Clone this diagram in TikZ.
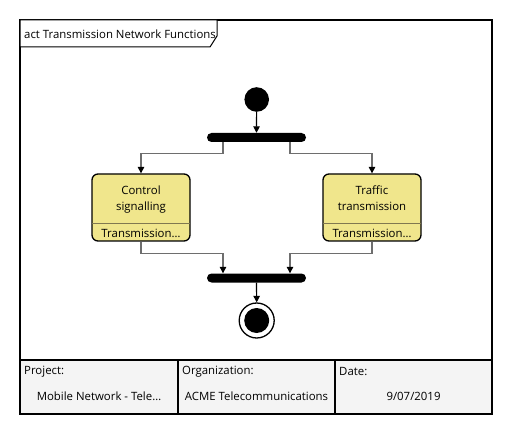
\documentclass[tikz,border=0pt]{standalone}
\usepackage{fontspec}
\setmainfont{Open Sans}
\usetikzlibrary{arrows.meta,calc}
\definecolor{actfill}{RGB}{240,230,140}
\definecolor{actline}{RGB}{128,120,80}
\definecolor{flowgray}{RGB}{110,110,110}
\definecolor{tablefill}{RGB}{244,244,244}
\begin{document}
\begin{tikzpicture}
[
   x=1pt, y=-1pt,
   font=\fontsize{11.4}{16}\selectfont,
   frame/.style={draw=black, line width=1.6pt},
   bar/.style={fill=black, rounded corners=4.5pt, minimum width=99pt, minimum height=9pt, inner sep=0pt},
   action/.style={draw=black, line width=1.3pt, fill=actfill, rounded corners=6pt, minimum width=98pt, minimum height=67pt, inner sep=0pt},
   flow/.style={draw=flowgray, line width=1.2pt, -{Triangle[width=6.5pt,length=6.5pt,fill=black,color=black]}},
   label/.style={anchor=west, inner sep=0pt},
   value/.style={inner sep=0pt}]
\useasboundingbox (0,0) rectangle (513,435);
\fill[white] (0,0) rectangle (513,435);
% frame and title tab
\fill[tablefill] (20,360) rectangle (492,414);
\draw[frame] (20,20) rectangle (492,414);
\draw[line width=1pt, fill=white] (20,20) -- (20,47) -- (210,47) -- (217,36) -- (217,20) -- cycle;
\node[label] (title) at (24,34) {act Transmission Network Functions};
% nodes
\node[circle, fill=black, minimum size=24.6pt, inner sep=0pt] (start) at (256.7,99.5) {};
\node[bar] (fork) at (256.5,137.5) {};
\node[action] (ctrl) at (141,207.5) {};
\node[action] (traffic) at (372,207.5) {};
\node[bar] (join) at (256.5,278) {};
\node[circle, draw=black, line width=1.3pt, fill=white, minimum size=35pt, inner sep=0pt] (stop) at (256.7,320.5) {};
\node[circle, fill=black, minimum size=25pt, inner sep=0pt] (stopdot) at (stop.center) {};
% action texts
\foreach \n/\t in {ctrl/{Control\\signalling}, traffic/{Traffic\\transmission}}{
   \node[align=center, anchor=base, inner sep=0pt] (\n-name) at ($(\n.north)+(0,37)$) {\t};
   \draw[actline, line width=1.3pt] ($(\n.west)+(0.7,15.8)$) -- ($(\n.east)+(-0.7,15.8)$);
   \node[value] (\n-part) at ($(\n.south)+(0,-8.5)$) {Transmission…};
}
% connectors
\draw[flow, draw=black] (start) -- (fork.north);
\draw[flow] ([xshift=-33.5pt]fork.south) -- ++(0,11) -| (ctrl.north);
\draw[flow] ([xshift=33.5pt]fork.south) -- ++(0,11) -| (traffic.north);
\draw[flow] (ctrl.south) -- ++(0,11.5) -| ([xshift=-33.5pt]join.north);
\draw[flow] (traffic.south) -- ++(0,11.5) -| ([xshift=33.5pt]join.north);
\draw[flow, draw=black] (join.south) -- (stop.north);
% table
\draw[frame] (20,360) -- (492,360);
\draw[frame] (178,360) -- (178,414);
\draw[frame] (335,360) -- (335,414);
\node[label] (project) at (24,372) {Project:};
\node[label] (org) at (182,372) {Organization:};
\node[label] (date) at (339,372) {Date:};
\node[value] (project-v) at (99,396) {Mobile Network - Tele…};
\node[value] (org-v) at (256.5,396) {ACME Telecommunications};
\node[value] (date-v) at (413.5,396) {9/07/2019};
\end{tikzpicture}
\end{document}
